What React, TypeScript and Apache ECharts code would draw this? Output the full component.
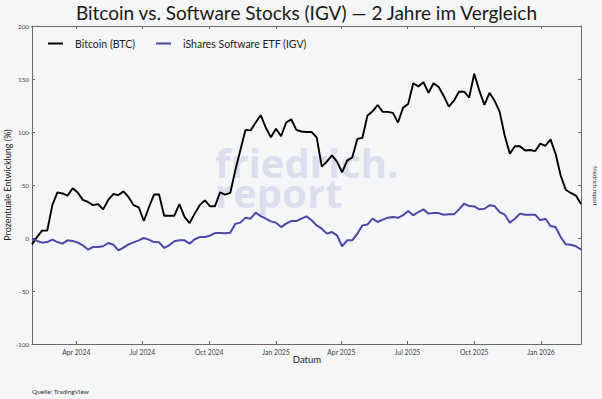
import React, { useEffect, useRef } from "react";
import * as echarts from "echarts";

const startDate = Date.UTC(2024, 0, 31);
const weekMs = 7 * 24 * 3600 * 1000;

const btcValues = [
  -6, 1, 7, 7, 31, 43, 42, 40, 47, 43,
  36, 34, 31, 32, 27, 36, 41.5, 40.5, 44, 38.5,
  31, 29, 16, 29, 41, 41, 21, 21, 21, 32,
  20, 14, 23, 31, 35.5, 30, 30, 43, 41, 42.5,
  64, 83, 102, 101.5, 109, 116, 104, 95, 103, 96,
  109, 112, 102, 100.5, 100, 100, 95, 67.5, 72, 78,
  72, 62, 73, 76, 93.5, 94.5, 115.5, 119.5, 125.5, 119,
  119, 118, 109, 123, 126.5, 146, 143, 147, 137, 146,
  142.5, 134, 124, 129.5, 138, 138, 132.5, 155, 139, 125.5,
  137, 129.5, 119, 96.5, 79.5, 86.5, 86.5, 82.5, 83, 82,
  89, 87, 93, 79.5, 59, 45.5, 42.5, 40, 32,
];

const igvValues = [
  -0.5, -2.8, -4.4, -3.8, -1.5, -3.8, -5.3, -2.2, -2.8, -4.4,
  -6.9, -10.9, -8.5, -8.5, -7.8, -4.7, -6.3, -11.6, -9.1, -6,
  -4.1, -2.2, 0, -1.5, -3.8, -4.1, -9.4, -6.9, -3.1, -2.2,
  -2.2, -5.3, -1.2, 0.9, 0.9, 2.2, 4.7, 4.6, 4.4, 5,
  13.5, 14.5, 19.2, 18.2, 23.9, 20.7, 18.2, 15.7, 14.5, 10.3,
  13.5, 16, 16, 18.2, 20.4, 16.7, 11.9, 8.8, 4.1, 5.6,
  2.5, -7.8, -2.2, -2.2, 4.1, 11.9, 12.8, 18.2, 15.1, 17.3,
  19.2, 19.8, 19, 21.5, 25.4, 21.4, 24.5, 27, 23, 23.5,
  23.5, 22, 22.3, 22.3, 27, 32.3, 30.1, 29.8, 27, 27.6,
  30.8, 30.1, 24.5, 22, 14.5, 18.2, 23, 22, 22, 22,
  16.7, 18.2, 11.3, 10.3, 0.9, -6, -6.3, -7.8, -10.9,
];

const tickDates = [
  "2024-04-01", "2024-07-01", "2024-10-01", "2025-01-01",
  "2025-04-01", "2025-07-01", "2025-10-01", "2026-01-01",
];
const tickLabels = [
  "Apr 2024", "Jul 2024", "Oct 2024", "Jan 2025",
  "Apr 2025", "Jul 2025", "Oct 2025", "Jan 2026",
];

const seriesNames = ["Bitcoin (BTC)", "iShares Software ETF (IGV)"];
const yMin = -100;
const yMax = 200;
const yStep = 50;

export default function App() {
  const ref = useRef<HTMLDivElement>(null);
  useEffect(() => {
    if (!ref.current) return;
    const chart = echarts.init(ref.current, null, { renderer: "svg" });
    const times = btcValues.map((_, i) => startDate + i * weekMs);
    const tickTimes = tickDates.map((d) => new Date(d + "T00:00:00Z").getTime());
    const xMin = times[0];
    const xMax = times[times.length - 1];
    const font = "Lato";
    const axisColor = "#6a6a6a";
    const commonX = {
      type: "value" as const,
      min: xMin,
      max: xMax,
      splitLine: { show: false },
      axisLine: { show: true, onZero: false, lineStyle: { color: axisColor, width: 1 } },
      axisTick: {
        show: true,
        inside: true,
        length: 3,
        customValues: tickTimes,
        lineStyle: { color: axisColor },
      },
    };
    const commonY = {
      type: "value" as const,
      min: yMin,
      max: yMax,
      interval: yStep,
      splitLine: { show: false },
      axisLine: { show: true, onZero: false, lineStyle: { color: axisColor, width: 1 } },
      axisTick: { show: true, inside: true, length: 3, lineStyle: { color: axisColor } },
    };
    chart.setOption({
      animation: false,
      backgroundColor: "#f5f6f8",
      grid: { left: 32, right: 21, top: 26, bottom: 55, containLabel: false },
      legend: {
        data: seriesNames,
        left: 43,
        top: 33,
        icon: "rect",
        itemWidth: 15,
        itemHeight: 2,
        itemGap: 21,
        textStyle: { fontFamily: font, fontSize: 10.5, color: "#222", padding: [0, 0, 0, 7] },
      },
      xAxis: [
        {
          ...commonX,
          position: "bottom",
          axisLabel: {
            show: true,
            customValues: tickTimes,
            margin: 4,
            fontFamily: font,
            fontSize: 6.8,
            color: "#444",
            formatter: (v: number) => {
              const idx = tickTimes.indexOf(v);
              return idx >= 0 ? tickLabels[idx] : "";
            },
          },
        },
        { ...commonX, position: "top", axisLabel: { show: false } },
      ],
      yAxis: [
        {
          ...commonY,
          position: "left",
          axisLabel: { show: true, margin: 3, fontFamily: font, fontSize: 6.3, color: "#444" },
        },
        { ...commonY, position: "right", axisLabel: { show: false } },
      ],
      series: [
        {
          name: seriesNames[0],
          type: "line",
          data: times.map((t, i) => [t, btcValues[i]]),
          showSymbol: false,
          lineStyle: { color: "#000000", width: 1.9 },
          itemStyle: { color: "#000000" },
          z: 3,
        },
        {
          name: seriesNames[1],
          type: "line",
          data: times.map((t, i) => [t, igvValues[i]]),
          showSymbol: false,
          lineStyle: { color: "#4d47a8", width: 2 },
          itemStyle: { color: "#4d47a8" },
          z: 3,
        },
      ],
      graphic: [
        {
          type: "text",
          x: 215,
          y: 147,
          z: 0,
          style: {
            text: "friedrich.\nreport",
            fontFamily: "Open Sans",
            fontWeight: "bold",
            fontSize: 40,
            lineHeight: 30,
            fill: "#dcdef0",
            align: "left",
            verticalAlign: "top",
          },
        },
        {
          type: "text",
          x: 306.5,
          y: 12,
          style: {
            text: "Bitcoin vs. Software Stocks (IGV) \u2014 2 Jahre im Vergleich",
            fontFamily: font,
            fontSize: 19,
            fill: "#1a1a1a",
            align: "center",
            verticalAlign: "middle",
          },
        },
        {
          type: "text",
          x: 7.5,
          y: 185,
          rotation: Math.PI / 2,
          style: {
            text: "Prozentuale Entwicklung (%)",
            fontFamily: font,
            fontSize: 9,
            fill: "#222",
            align: "center",
            verticalAlign: "middle",
          },
        },
        {
          type: "text",
          x: 307,
          y: 359,
          style: {
            text: "Datum",
            fontFamily: font,
            fontSize: 9.5,
            fill: "#222",
            align: "center",
            verticalAlign: "middle",
          },
        },
        {
          type: "text",
          x: 32,
          y: 391.5,
          style: {
            text: "Quelle: TradingView",
            fontFamily: font,
            fontSize: 6.5,
            fill: "#333",
            align: "left",
            verticalAlign: "middle",
          },
        },
        {
          type: "text",
          x: 595,
          y: 186,
          rotation: -Math.PI / 2,
          style: {
            text: "friedrich.report",
            fontFamily: font,
            fontSize: 6,
            fill: "#333",
            align: "center",
            verticalAlign: "middle",
          },
        },
      ],
    });
    return () => chart.dispose();
  }, []);
  return (
    <div
      ref={ref}
      style={{ position: "fixed", left: 0, top: 0, width: 602, height: 399 }}
    />
  );
}
